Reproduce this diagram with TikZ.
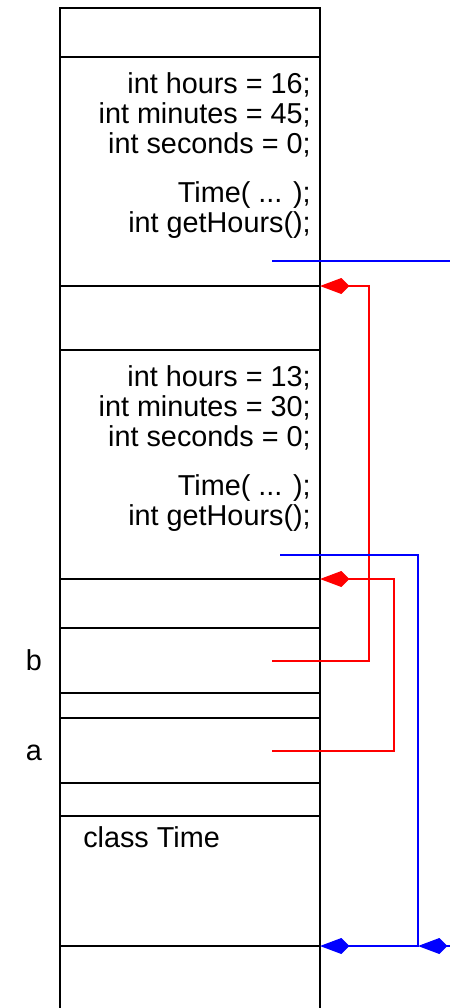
\documentclass[tikz,border=0pt]{standalone}
\usepackage{fontspec}
\setmainfont{Liberation Sans}
\usetikzlibrary{arrows.meta}
\begin{document}
\begin{tikzpicture}[x=0.75pt,y=-0.75pt,
  frame/.style={draw=black,line width=1.5pt},
  cell/.style={draw=black,line width=1.5pt,rectangle,inner sep=0pt,outer sep=0pt,minimum width=195pt,anchor=north west},
  code/.style={font=\fontsize{21.6}{30}\selectfont,inner sep=0pt,anchor=base east},
  lbl/.style={font=\fontsize{21.6}{30}\selectfont,inner sep=0pt,anchor=base},
  refr/.style={draw=red,line width=1.1pt,-{Kite[length=22pt,width=12pt,inset=6pt]}},
  refb/.style={draw=blue,line width=1.1pt,-{Kite[length=22pt,width=12pt,inset=6pt]}},
  plainb/.style={draw=blue,line width=1.1pt}]
\useasboundingbox (0,0) rectangle (450,1008);
% memory column
\draw[frame] (60,1010) -- (60,8) -- (320,8) -- (320,1010);
% cells
\node[cell,minimum height=171.75pt] (obj1) at (60,57) {};
\node[cell,minimum height=171.75pt] (obj2) at (60,350) {};
\node[cell,minimum height=48.75pt] (varb) at (60,628) {};
\node[cell,minimum height=48.75pt] (vara) at (60,718) {};
\node[cell,minimum height=97.5pt] (cls) at (60,816) {};
% object 1 text
\node[code] (o1h) at (311,93) {int hours = 16;};
\node[code] (o1m) at (311,123) {int minutes = 45;};
\node[code] (o1s) at (311,153) {int seconds = 0;};
\node[code] (o1c) at (311,202) {Time( ... );};
\node[code] (o1g) at (311,232) {int getHours();};
% object 2 text
\node[code] (o2h) at (311,386) {int hours = 13;};
\node[code] (o2m) at (311,416) {int minutes = 30;};
\node[code] (o2s) at (311,446) {int seconds = 0;};
\node[code] (o2c) at (311,495) {Time( ... );};
\node[code] (o2g) at (311,525) {int getHours();};
% class
\node[code,anchor=base west] (clst) at (83,847) {class Time};
% variable labels
\node[lbl] (lb) at (34,670) {b};
\node[lbl] (la) at (34,760) {a};
% connector start points
\coordinate (p1) at (272,261);
\coordinate (p1e) at (450,261);
\coordinate (p2) at (280,555);
\coordinate (pb) at (272,661);
\coordinate (pa) at (272,751);
\coordinate (pr) at (452,946);
\coordinate (pt) at (418,946);
% connectors
\draw[plainb] (p1) -- (p1e);
\draw[refr] (pb) -- (369,661) -- (369,286) -- (obj1.south east);
\draw[refr] (pa) -- (394,751) -- (394,579) -- (obj2.south east);
\draw[refb] (p2) -- (418,555) -- (418,946) -- (cls.south east);
\draw[refb] (pr) -- (pt);
\end{tikzpicture}
\end{document}
